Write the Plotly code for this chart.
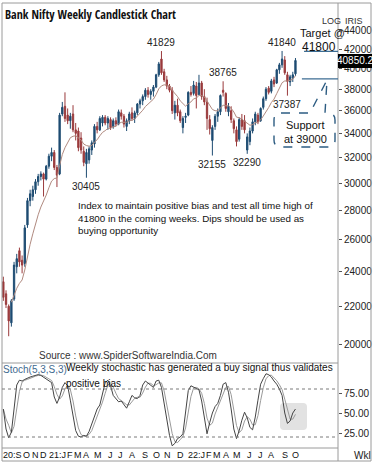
import math
import pandas as pd
import plotly.graph_objects as go

# ---------------- data ----------------
week_start = "2020-09-07"
opens = [23400, 22700, 22000, 21100, 22400, 24300, 25300, 24700, 24500, 27000,
         28700, 29000, 29500, 30100, 30500, 30700, 30300, 31300, 32100, 32400,
         31200, 30700, 35700, 36400, 35600, 35100, 35700, 34300, 34200, 33600,
         32500, 31500, 31800, 32600, 33100, 34600, 34300, 34900, 35400, 34900,
         35200, 34600, 35100, 34800, 35800, 35500, 34600, 35100, 35800, 35300,
         35800, 36600, 36900, 37300, 37900, 37500, 37800, 38200, 39400, 41000,
         39700, 38900, 38300, 37900, 35800, 36500, 35900, 34500, 35400, 35600,
         37700, 37600, 38300, 37500, 38600, 37300, 36800, 35200, 33400, 34600,
         35500, 35900, 37900, 37600, 35900, 36000, 35100, 34300, 33500, 35200,
         35100, 32600, 33300, 34200, 35000, 35600, 35100, 36300, 37100, 38100,
         37800, 38900, 38600, 39900, 40400, 40900, 39400, 38700, 39100, 39500]
highs = [23700, 22900, 22100, 22400, 24600, 25100, 25500, 25000, 27000, 28900,
         29500, 29800, 30300, 30700, 30900, 30800, 31400, 32300, 32800, 32600,
         31400, 35800, 36800, 37700, 36200, 35800, 36500, 34900, 34500, 34100,
         32900, 32700, 32900, 33400, 34800, 35000, 35500, 35600, 35600, 35500,
         35400, 35300, 35400, 36100, 36100, 35700, 35300, 35900, 36300, 36000,
         36700, 37100, 37500, 38100, 38200, 38000, 38400, 39500, 40700, 41829,
         40000, 39300, 38500, 38200, 36900, 37100, 36100, 35500, 35800, 37800,
         38300, 38800, 38700, 39400, 38800, 38000, 37200, 35600, 34700, 35700,
         36200, 37500, 38765, 37700, 36700, 36400, 35300, 34600, 35400, 35700,
         35600, 34000, 34500, 35300, 35900, 35800, 36300, 37300, 38200, 38300,
         39000, 39200, 40000, 40600, 41840, 41300, 39700, 39400, 39700, 41100]
lows = [22300, 21900, 20400, 20900, 22300, 23900, 24300, 23900, 24300, 26800,
        28300, 28700, 29200, 29800, 30200, 29000, 30200, 31100, 31700, 31000,
        29700, 30600, 35500, 35000, 34800, 34400, 34100, 33400, 32500, 32300,
        31300, 30405, 31500, 32200, 32800, 34000, 34200, 34600, 34700, 34300,
        34300, 34400, 34600, 34700, 35200, 34500, 34200, 34800, 35100, 34900,
        35600, 36200, 36500, 37000, 37200, 37000, 37300, 38100, 39200, 39400,
        38700, 38000, 37700, 35700, 35200, 35500, 34900, 34000, 34900, 35500,
        37300, 37400, 36200, 37400, 37000, 36500, 34300, 33900, 32155, 34300,
        35000, 35600, 37300, 35900, 35500, 34900, 34000, 32900, 33300, 34300,
        34000, 32290, 33000, 34000, 34700, 34800, 35000, 36100, 36900, 37500,
        37600, 38200, 38500, 39500, 40100, 39400, 37387, 38300, 38700, 39300]
closes = [22500, 22100, 21200, 22300, 24400, 24800, 24600, 24400, 26800, 28700,
          29200, 29500, 30100, 30500, 30700, 30300, 31300, 32100, 32400, 31200,
          30600, 35600, 36300, 35300, 35100, 35500, 34300, 34000, 32800, 32600,
          31600, 32400, 32700, 33200, 34600, 34300, 35300, 35400, 34900, 35300,
          34500, 35100, 34800, 35900, 35500, 34800, 35100, 35700, 35300, 35800,
          36600, 36900, 37300, 37900, 37500, 37800, 38200, 39400, 40500, 39600,
          38900, 38300, 37900, 36000, 36500, 35800, 35100, 35300, 35500, 37700,
          37500, 38400, 37400, 38600, 37300, 36800, 35300, 34400, 34500, 35500,
          35900, 37400, 37700, 36200, 36400, 35200, 34400, 33300, 35200, 34600,
          34300, 33700, 34200, 35000, 35700, 35000, 36200, 37100, 38000, 37700,
          38800, 38500, 39900, 40400, 41000, 39600, 38750, 39200, 39400, 40850.2]
stoch_k = [55, 30, 19, 26, 55, 85, 91, 90, 92, 94,
           95, 96, 97, 98, 97, 95, 93, 91, 88, 70,
           62, 70, 82, 88, 84, 66, 45, 28, 21, 20,
           22, 21, 27, 36, 46, 55, 60, 76, 88, 91,
           84, 72, 68, 64, 65, 60, 56, 64, 72, 69,
           68, 72, 85, 90, 87, 84, 82, 90, 91, 82,
           60, 42, 22, 9, 12, 18, 20, 24, 50, 78,
           84, 82, 80, 79, 65, 42, 24, 38, 50, 58,
           62, 72, 86, 88, 76, 55, 30, 18, 28, 41,
           51, 44, 32, 29, 45, 66, 86, 93, 99, 98,
           95, 90, 86, 80, 72, 50, 37, 40, 50, 55]
marked_highs = [41829, 38765, 41840]
marked_lows = [30405, 32155, 32290, 37387]
price_ticks = [20000, 22000, 24000, 26000, 28000, 30000, 32000, 34000,
               36000, 38000, 40000, 42000, 44000]
stoch_ticks = [25, 50, 75]
stoch_levels = [20, 80]
target_level = 41800
support_level = 39000
month_letters = ["J", "F", "M", "A", "M", "J", "J", "A", "S", "O", "N", "D"]

# ---------------- geometry helpers ----------------
W, H = 374, 466
def px(x):
    return x / W
def py(y):
    return 1 - y / H

n = len(closes)
xs = list(range(n))
dates = pd.date_range(week_start, periods=n, freq="7D")
ma = pd.Series(closes).ewm(span=10, adjust=False).mean()
stoch_d = pd.Series(stoch_k).rolling(3, min_periods=1).mean()

UP = "#1e4c72"
DN = "#9a3a3c"
COND = "Open Sans Condensed, Liberation Sans, sans-serif"
REG = "Liberation Sans, Arial, sans-serif"
XR = [-0.5, 124.87]
PX_PER_WEEK = 336 / (XR[1] - XR[0])

fig = go.Figure()
fig.add_trace(go.Candlestick(
    x=xs, open=opens, high=highs, low=lows, close=closes,
    increasing=dict(line=dict(color=UP, width=1), fillcolor=UP),
    decreasing=dict(line=dict(color=DN, width=1), fillcolor=DN),
    whiskerwidth=0, xaxis="x", yaxis="y", showlegend=False, hoverinfo="skip"))
fig.add_trace(go.Scatter(x=xs[3:], y=list(ma)[3:], mode="lines",
                         line=dict(color="#b08a80", width=1), xaxis="x", yaxis="y",
                         showlegend=False, hoverinfo="skip"))
fig.add_trace(go.Scatter(x=xs, y=list(stoch_d), mode="lines",
                         line=dict(color="#9a9a9a", width=1), xaxis="x2", yaxis="y2",
                         showlegend=False, hoverinfo="skip"))
fig.add_trace(go.Scatter(x=xs, y=stoch_k, mode="lines",
                         line=dict(color="#444444", width=1), xaxis="x2", yaxis="y2",
                         showlegend=False, hoverinfo="skip"))

lo_log = math.log10(19070)
hi_log = math.log10(47210)

fig.update_layout(
    width=W, height=H, margin=dict(l=0, r=0, t=0, b=0),
    paper_bgcolor="white", plot_bgcolor="rgba(0,0,0,0)",
    showlegend=False,
    xaxis=dict(domain=[px(2), px(338)], range=XR, showticklabels=False, showgrid=False,
               zeroline=False, showline=False, rangeslider=dict(visible=False), anchor="y"),
    yaxis=dict(domain=[py(363), py(3)], type="log", range=[lo_log, hi_log], side="right",
               anchor="x", tickvals=price_ticks, ticktext=[str(v) for v in price_ticks],
               ticks="outside", ticklen=3, tickcolor="#555", showgrid=False, zeroline=False,
               showline=False, tickfont=dict(family=REG, size=10, color="#222")),
    xaxis2=dict(domain=[px(2), px(338)], range=XR, showticklabels=False, showgrid=False,
                zeroline=False, showline=False, anchor="y2", matches="x"),
    yaxis2=dict(domain=[py(448), py(363)], range=[6.25, 112.5], side="right", anchor="x2",
                tickvals=stoch_ticks, ticktext=["%.2f" % v for v in stoch_ticks],
                ticks="outside", ticklen=3, tickcolor="#555", showgrid=False, zeroline=False,
                showline=False, tickfont=dict(family=REG, size=10, color="#222")),
)

shapes = []
line_gray = dict(color="#9a9a9a", width=1)
shapes.append(dict(type="rect", xref="paper", yref="paper", x0=px(2), x1=px(371),
                   y0=py(461), y1=py(3), line=line_gray, layer="above"))
shapes.append(dict(type="line", xref="paper", yref="paper", x0=px(338), x1=px(338),
                   y0=py(461), y1=py(3), line=line_gray))
shapes.append(dict(type="line", xref="paper", yref="paper", x0=px(2), x1=px(338),
                   y0=py(363), y1=py(363), line=line_gray))
shapes.append(dict(type="line", xref="paper", yref="paper", x0=px(2), x1=px(338),
                   y0=py(448), y1=py(448), line=line_gray))
for lv in stoch_levels:
    shapes.append(dict(type="line", xref="paper", yref="y2", x0=px(2), x1=px(338),
                       y0=lv, y1=lv, line=dict(color="#7a7a7a", width=1, dash="dot")))
bx0, bx1, by0, by1, r = 280, 307, 403, 430, 4
shapes.append(dict(type="path", xref="paper", yref="paper", layer="below",
                   fillcolor="#e2e2e2", line=dict(width=0),
                   path=(f"M {px(bx0+r)},{py(by0)} L {px(bx1-r)},{py(by0)} "
                         f"Q {px(bx1)},{py(by0)} {px(bx1)},{py(by0+r)} L {px(bx1)},{py(by1-r)} "
                         f"Q {px(bx1)},{py(by1)} {px(bx1-r)},{py(by1)} L {px(bx0+r)},{py(by1)} "
                         f"Q {px(bx0)},{py(by1)} {px(bx0)},{py(by1-r)} L {px(bx0)},{py(by0+r)} "
                         f"Q {px(bx0)},{py(by0)} {px(bx0+r)},{py(by0)} Z")))
shapes.append(dict(type="line", xref="x", yref="y", x0=112.2, x1=XR[1],
                   y0=target_level, y1=target_level, line=dict(color="#3d6d93", width=1.3)))
shapes.append(dict(type="line", xref="x", yref="y", x0=111.4, x1=XR[1],
                   y0=support_level, y1=support_level, line=dict(color="#3d6d93", width=1.3)))
cx0, cx1, cy0, cy1, cr = 274, 335, 113, 147, 7
shapes.append(dict(type="path", xref="paper", yref="paper",
                   line=dict(color="#2d5c82", width=1.4, dash="dash"),
                   path=(f"M {px(cx0+cr)},{py(cy0)} L {px(310)},{py(cy0)} L {px(327)},{py(80)} "
                         f"L {px(325)},{py(cy0)} L {px(cx1-cr)},{py(cy0)} "
                         f"Q {px(cx1)},{py(cy0)} {px(cx1)},{py(cy0+cr)} L {px(cx1)},{py(cy1-cr)} "
                         f"Q {px(cx1)},{py(cy1)} {px(cx1-cr)},{py(cy1)} L {px(cx0+cr)},{py(cy1)} "
                         f"Q {px(cx0)},{py(cy1)} {px(cx0)},{py(cy1-cr)} L {px(cx0)},{py(cy0+cr)} "
                         f"Q {px(cx0)},{py(cy0)} {px(cx0+cr)},{py(cy0)} Z")))
shapes.append(dict(type="rect", xref="paper", yref="paper", x0=px(338), x1=px(372),
                   y0=py(68), y1=py(54), fillcolor="black", line=dict(width=0), layer="above"))
fig.update_layout(shapes=shapes)

ann = []
def text(x, y, s, size=10, color="#111", family=REG, anchor="left"):
    ann.append(dict(x=px(x), y=py(y), xref="paper", yref="paper", text=s, showarrow=False,
                    xanchor=anchor, yanchor="middle", align="left",
                    font=dict(size=size, color=color, family=family)))

text(3, 14, "Bank Nifty Weekly Candlestick Chart", size=12, family=COND)
text(320, 21, "LOG", size=9, color="#333")
text(343, 21, "IRIS", size=9, color="#333")
text(322, 33, "Target @", size=11, anchor="center")
text(319, 47, "41800", size=12, anchor="center")
text(355, 61, "40850.2", size=10, color="white", anchor="center")
text(305, 125, "Support", size=11, anchor="center")
text(305, 139, "at 39000", size=11, anchor="center")
text(76, 218, "Index to maintain positive bias and test all time high of<br>"
              "41800 in the coming weeks. Dips should be used as<br>"
              "buying opportunity", size=9.8)
text(37, 355, "Source : www.SpiderSoftwareIndia.Com", size=10, color="#333")
text(1, 369, "Stoch(5,3,S,3)", size=10, color="#3f6a90")
text(64, 367, "Weekly stochastic has generated a buy signal thus validates", size=10)
text(64, 383, "positive bias", size=10)
text(362, 455, "Wkl", size=10, color="#222", anchor="center")

for v in marked_highs:
    i = highs.index(v)
    ann.append(dict(x=i, y=math.log10(v), xref="x", yref="y", text=str(v), showarrow=False,
                    xanchor="center", yanchor="bottom", yshift=1,
                    font=dict(size=10, color="#222", family=REG)))
for v in marked_lows:
    i = lows.index(v)
    ann.append(dict(x=i, y=math.log10(v), xref="x", yref="y", text=str(v), showarrow=False,
                    xanchor="center", yanchor="top", yshift=-1,
                    font=dict(size=10, color="#222", family=REG)))

# month labels, left-aligned at the month's first week, nudged right when crowded
CW = {"0": 556, "1": 556, "2": 556, ":": 278, "J": 500, "F": 611, "M": 833, "A": 667,
      "S": 667, "O": 778, "N": 722, "D": 722}
MSIZE = 9
prev_right = -10.0
for i, d in enumerate(dates):
    if i == 0 or d.month != dates[i - 1].month:
        lab = month_letters[d.month - 1]
        if i == 0 or d.month == 1:
            lab = f"{d.year % 100}:" + lab
        want = 2 + (i - 0.5 - XR[0]) * PX_PER_WEEK
        left = max(want, prev_right + 1.5)
        width = sum(CW.get(c, 600) for c in lab) * MSIZE / 1000
        prev_right = left + width
        ann.append(dict(x=px(left), y=py(455), xref="paper", yref="paper", text=lab,
                        showarrow=False, xanchor="left", yanchor="middle", borderpad=0,
                        font=dict(size=MSIZE, color="#111", family=REG)))

fig.update_layout(annotations=ann)

fig.write_html("out.html", include_plotlyjs=True, full_html=True,
               config={"displayModeBar": False, "staticPlot": True},
               post_script="document.body.style.margin='0';")
